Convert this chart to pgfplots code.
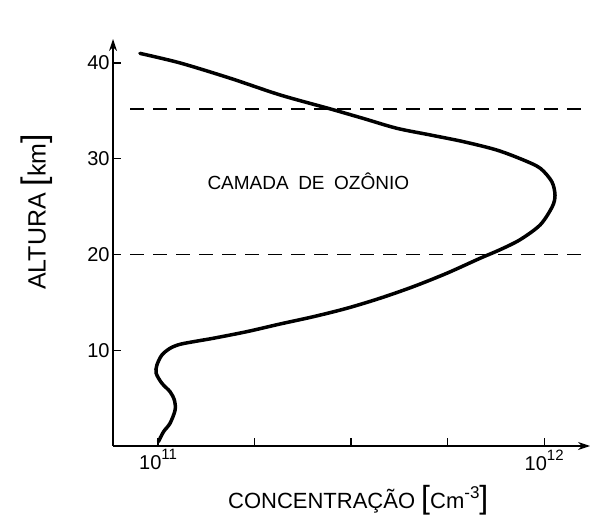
\documentclass[border=0pt]{standalone}
\usepackage{fontspec}
\setmainfont{Liberation Sans}
\usepackage{pgfplots}
\pgfplotsset{compat=1.18}
\usetikzlibrary{arrows.meta}
\newcommand{\tl}{\fontsize{20}{20}\selectfont}
\newcommand{\expo}[1]{\raisebox{0.5em}{\fontsize{15}{15}\selectfont #1}}
\begin{document}
\begin{tikzpicture}
\useasboundingbox (-113pt,-71pt) rectangle (477pt,446pt);
\begin{axis}[
  at={(0pt,0pt)}, anchor=south west,
  scale only axis, width=477pt, height=407pt,
  xmode=log, xmin=7.646e10, xmax=1.315e12, ymin=0, ymax=42.5,
  axis lines=left,
  axis line style={line width=1.4pt, -{Stealth[length=12pt,width=8pt]}},
  tick align=inside, major tick length=8pt,
  tick style={line width=1.2pt, black},
  xtick={1e11,1.778e11,3.162e11,5.623e11,1e12},
  xticklabels={{10\expo{11}},,,,{10\expo{12}}},
  minor xtick={},
  ytick={10,20,30,40},
  yticklabels={10,20,30,40},
  xticklabel style={font=\tl},
  yticklabel style={font=\tl},
  xlabel={CONCENTRAÇÃO {\fontsize{32}{32}\selectfont[}Cm\raisebox{0.45em}{\fontsize{17}{17}\selectfont -3}{\fontsize{32}{32}\selectfont]}},
  ylabel={ALTURA {\fontsize{34}{34}\selectfont[}km{\fontsize{34}{34}\selectfont]}},
  xlabel style={at={(axis description cs:0.514,-0.133)}, anchor=center, font=\fontsize{22}{22}\selectfont},
  ylabel style={at={(axis description cs:-0.16,0.575)}, anchor=center, font=\fontsize{25}{25}\selectfont},
  clip=false,
]
\addplot[black, line width=1.3pt, dash pattern=on 14pt off 9pt] coordinates {(8.46e10,35.2) (1.315e12,35.2)};
\addplot[black, line width=1.3pt, dash pattern=on 14pt off 9pt] coordinates {(8.46e10,20) (1.315e12,20)};
\addplot[black, line width=3.5pt, smooth, line cap=round] coordinates {
(1.002e11,0.45)
(1.033e11,1.49)
(1.074e11,2.37)
(1.107e11,3.76)
(1.102e11,4.80)
(1.074e11,5.67)
(1.023e11,6.55)
(9.886e10,7.59)
(9.931e10,8.46)
(1.023e11,9.50)
(1.074e11,10.2)
(1.140e11,10.62)
(1.259e11,10.95)
(1.390e11,11.25)
(1.698e11,11.94)
(2.070e11,12.74)
(2.523e11,13.5)
(3.083e11,14.38)
(3.758e11,15.43)
(4.581e11,16.64)
(5.598e11,18.04)
(6.823e11,19.6)
(7.691e11,20.5)
(8.670e11,21.55)
(9.772e11,23.1)
(1.050e12,25.0)
(1.067e12,26.2)
(1.047e12,27.6)
(9.772e11,29.0)
(8.831e11,29.87)
(7.534e11,30.91)
(6.180e11,31.78)
(5.070e11,32.48)
(4.150e11,33.18)
(3.404e11,34.2)
(2.793e11,35.2)
(2.070e11,36.66)
(1.538e11,38.4)
(1.140e11,40.0)
(8.974e10,41.0)
};
\node[font=\fontsize{19}{19}\selectfont] at (axis cs:2.45e11,27.6) {CAMADA\hspace{0.5em}DE\hspace{0.5em}OZÔNIO};
\end{axis}
\end{tikzpicture}
\end{document}
